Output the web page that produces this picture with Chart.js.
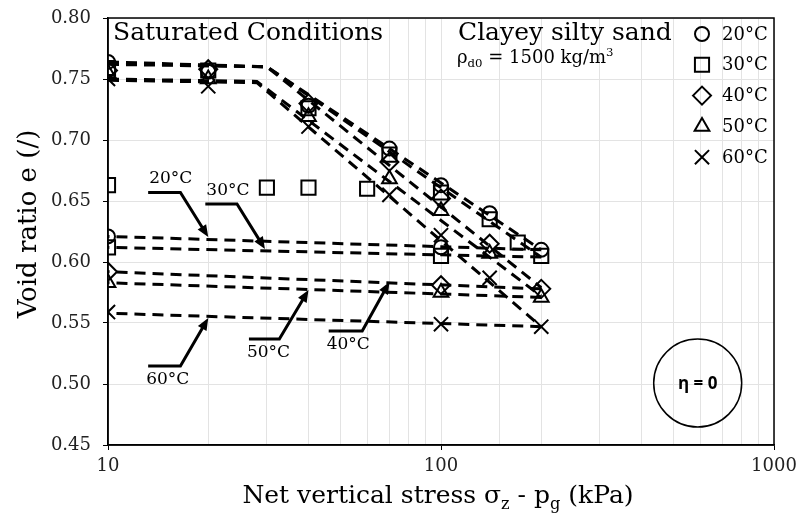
<!DOCTYPE html>
<html>
<head>
<meta charset="utf-8">
<script src="https://cdn.jsdelivr.net/npm/chart.js@4.4.0/dist/chart.umd.min.js"></script>
<style>
  html, body { margin: 0; padding: 0; background: #fff; }
  #wrap { width: 798px; height: 515px; }
</style>
</head>
<body>
<div id="wrap"><canvas id="voidChart" width="798" height="515"></canvas></div>
<script>
// Values (stress in kPa, void ratio e)
const temps = ['20°C', '30°C', '40°C', '50°C', '60°C'];
const markerStyles = ['circle', 'rect', 'rectRot', 'triangle', 'crossRot'];

// loading steps
const stressLoad = [10, 20, 40, 70, 100, 140, 200];
const eLoad20 = [0.764, 0.756, 0.728, 0.693, 0.663, 0.640, 0.610];
const eLoad30 = [0.759, 0.757, 0.726, 0.688, 0.657, 0.635, 0.605];
const eLoad40 = [0.757, 0.758, 0.730, 0.682, 0.652, 0.615, 0.578];
const eLoad50 = [0.755, 0.750, 0.719, 0.668, 0.642, 0.607, 0.571];
const eLoad60 = [0.750, 0.744, 0.711, 0.655, 0.622, 0.587, 0.547];

// extra 30°C specimen points
const stressExtra30 = [10, 30, 40, 60, 170];
const eExtra30 = [0.663, 0.661, 0.661, 0.660, 0.616];

// unloading steps
const stressUnload = [100, 10];
const eUnload20 = [0.612, 0.621];
const eUnload30 = [0.605, 0.612];
const eUnload40 = [0.581, 0.592];
const eUnload50 = [0.575, 0.583];
const eUnload60 = [0.549, 0.559];

// bilinear fits on loading
const stressFitHigh = [10, 30, 200];
const stressFitLow = [10, 28, 200];
const eFit20 = [0.764, 0.760, 0.610];
const eFit30 = [0.763, 0.760, 0.604];
const eFit40 = [0.762, 0.760, 0.579];
const eFit50 = [0.750, 0.748, 0.572];
const eFit60 = [0.749, 0.747, 0.547];

// rebound fits on unloading
const stressRebound = [200, 10];
const eRebound20 = [0.610, 0.621];
const eRebound30 = [0.604, 0.612];
const eRebound40 = [0.578, 0.592];
const eRebound50 = [0.571, 0.583];
const eRebound60 = [0.547, 0.558];

const yTicks = [0.45, 0.50, 0.55, 0.60, 0.65, 0.70, 0.75, 0.80];
const xTickLabels = [10, 100, 1000];

const SERIF = '"DejaVu Serif", serif';
const pts = (xs, ys) => xs.map((x, i) => ({ x: x, y: ys[i] }));

const markerSets = [
    pts(stressLoad, eLoad20).concat(pts(stressUnload, eUnload20)),
    pts(stressLoad, eLoad30).concat(pts(stressUnload, eUnload30), pts(stressExtra30, eExtra30)),
    pts(stressLoad, eLoad40).concat(pts(stressUnload, eUnload40)),
    pts(stressLoad, eLoad50).concat(pts(stressUnload, eUnload50)),
    pts(stressLoad, eLoad60).concat(pts(stressUnload, eUnload60))
];
const markerRadius = [7, 10, 9, 8.5, 10];

const fitLines = [
    pts(stressFitHigh, eFit20), pts(stressFitHigh, eFit30), pts(stressFitHigh, eFit40),
    pts(stressFitLow, eFit50), pts(stressFitLow, eFit60),
    pts(stressRebound, eRebound20), pts(stressRebound, eRebound30), pts(stressRebound, eRebound40),
    pts(stressRebound, eRebound50), pts(stressRebound, eRebound60)
];

const datasets = [];
markerSets.forEach((d, i) => {
    datasets.push({
        label: temps[i],
        data: d,
        showLine: false,
        pointStyle: markerStyles[i],
        pointRadius: markerRadius[i],
        pointBorderWidth: 2,
        pointBorderColor: '#000',
        pointBackgroundColor: 'rgba(0,0,0,0)',
        order: 0
    });
});
fitLines.forEach(d => {
    datasets.push({
        label: 'fit',
        data: d,
        showLine: true,
        borderColor: '#000',
        borderWidth: 3,
        borderDash: [11, 7],
        pointRadius: 0,
        fill: false,
        order: 1
    });
});

// rich text with sub/superscripts
function drawRich(ctx, parts, x, y, size, align) {
    const widths = parts.map(p => {
        ctx.font = ((p.sub || p.sup) ? size * 0.65 : size) + 'px ' + SERIF;
        return ctx.measureText(p.t).width;
    });
    const total = widths.reduce((a, b) => a + b, 0);
    let cx = align === 'center' ? x - total / 2 : x;
    parts.forEach((p, i) => {
        ctx.font = ((p.sub || p.sup) ? size * 0.65 : size) + 'px ' + SERIF;
        const dy = p.sub ? size * 0.22 : (p.sup ? -size * 0.38 : 0);
        ctx.fillText(p.t, cx, y + dy);
        cx += widths[i];
    });
}

function arrowHead(ctx, x0, y0, x1, y1) {
    const ang = Math.atan2(y1 - y0, x1 - x0);
    const len = 12, half = 5;
    ctx.beginPath();
    ctx.moveTo(x1, y1);
    ctx.lineTo(x1 - len * Math.cos(ang) + half * Math.sin(ang), y1 - len * Math.sin(ang) - half * Math.cos(ang));
    ctx.lineTo(x1 - len * Math.cos(ang) - half * Math.sin(ang), y1 - len * Math.sin(ang) + half * Math.cos(ang));
    ctx.closePath();
    ctx.fill();
}

// leader arrows pointing at the unloading lines (data coordinates)
const leaders = [
    { text: '20°C', path: [[13.2, 0.657], [16.5, 0.657], [20, 0.6205]], above: true },
    { text: '30°C', path: [[19.6, 0.6475], [24.4, 0.6475], [29.6, 0.6107]], above: true },
    { text: '60°C', path: [[13.2, 0.5148], [16.5, 0.5148], [20, 0.554]], above: false },
    { text: '50°C', path: [[26.5, 0.5369], [32.7, 0.5369], [40, 0.577]], above: false },
    { text: '40°C', path: [[46, 0.5434], [58, 0.5434], [70, 0.5836]], above: false }
];

const overlay = {
    id: 'overlay',
    afterDraw(chart) {
        const ctx = chart.ctx;
        const a = chart.chartArea;
        const xs = chart.scales.x, ys = chart.scales.y;
        ctx.save();
        ctx.fillStyle = '#000';
        ctx.strokeStyle = '#000';

        // frame
        ctx.lineWidth = 1.5;
        ctx.strokeRect(a.left, a.top, a.right - a.left, a.bottom - a.top);

        // headings
        ctx.textBaseline = 'alphabetic';
        ctx.textAlign = 'left';
        ctx.font = '25px ' + SERIF;
        ctx.fillText('Saturated Conditions', a.left + 5, a.top + 22);
        ctx.fillText('Clayey silty sand', 458, a.top + 22);
        drawRich(ctx, [{ t: 'ρ' }, { t: 'd0', sub: true }, { t: ' = 1500 kg/m' }, { t: '3', sup: true }], 457, a.top + 45, 18, 'left');

        // leaders
        ctx.lineWidth = 3;
        ctx.font = '17px ' + SERIF;
        leaders.forEach(l => {
            const p = l.path.map(q => [xs.getPixelForValue(q[0]), ys.getPixelForValue(q[1])]);
            ctx.beginPath();
            ctx.moveTo(p[0][0], p[0][1]);
            ctx.lineTo(p[1][0], p[1][1]);
            const ang = Math.atan2(p[2][1] - p[1][1], p[2][0] - p[1][0]);
            ctx.lineTo(p[2][0] - 8 * Math.cos(ang), p[2][1] - 8 * Math.sin(ang));
            ctx.stroke();
            arrowHead(ctx, p[1][0], p[1][1], p[2][0], p[2][1]);
            if (l.above) {
                ctx.textBaseline = 'alphabetic';
                ctx.fillText(l.text, p[0][0] + 1, p[0][1] - 9);
            } else {
                ctx.textBaseline = 'top';
                ctx.fillText(l.text, p[0][0] - 2, p[0][1] + 5);
            }
        });

        // eta circle
        const ex = xs.getPixelForValue(590), ey = ys.getPixelForValue(0.5008);
        ctx.lineWidth = 1.5;
        ctx.beginPath();
        ctx.arc(ex, ey, 44, 0, Math.PI * 2);
        ctx.stroke();
        ctx.font = 'bold 17px "Open Sans", sans-serif';
        ctx.textAlign = 'center';
        ctx.textBaseline = 'middle';
        ctx.fillText('η = 0', ex, ey + 1);

        // legend
        ctx.textAlign = 'left';
        ctx.font = '18px ' + SERIF;
        temps.forEach((t, i) => {
            const ly = a.top + 16 + i * 30.8;
            const lx = a.right - 72;
            const opts = { pointStyle: markerStyles[i], radius: markerRadius[i], borderWidth: 2 };
            ctx.lineWidth = 2;
            ctx.strokeStyle = '#000';
            ctx.fillStyle = 'rgba(0,0,0,0)';
            Chart.helpers.drawPoint(ctx, opts, lx, ly);
            ctx.fillStyle = '#000';
            ctx.textBaseline = 'middle';
            ctx.fillText(t, lx + 20, ly + 1);
        });

        // axis titles
        ctx.textBaseline = 'alphabetic';
        drawRich(ctx, [{ t: 'Net vertical stress σ' }, { t: 'z', sub: true }, { t: ' - p' }, { t: 'g', sub: true }, { t: ' (kPa)' }],
            (a.left + a.right) / 2 - 3, 503, 25, 'center');
        ctx.save();
        ctx.translate(36, 224);
        ctx.rotate(-Math.PI / 2);
        ctx.textAlign = 'center';
        ctx.font = '26px ' + SERIF;
        ctx.fillText('Void ratio e (/)', 0, 0);
        ctx.restore();

        ctx.restore();
    }
};

new Chart(document.getElementById('voidChart'), {
    type: 'scatter',
    data: { datasets: datasets },
    options: {
        responsive: false,
        devicePixelRatio: 1,
        animation: false,
        layout: { padding: { left: 0, top: 18, right: 24, bottom: 0 } },
        plugins: { legend: { display: false }, tooltip: { enabled: false } },
        scales: {
            x: {
                type: 'logarithmic',
                min: 10,
                max: 1000,
                afterFit: s => { s.height = 70; s.paddingLeft = 0; s.paddingRight = 0; },
                border: { color: '#000', width: 1.5 },
                grid: {
                    color: '#e3e3e3',
                    lineWidth: 1,
                    tickLength: 5,
                    tickColor: c => xTickLabels.includes(c.tick && c.tick.value) ? '#000' : 'rgba(0,0,0,0)'
                },
                ticks: {
                    autoSkip: false,
                    maxRotation: 0,
                    padding: 6,
                    color: '#222',
                    font: { family: SERIF, size: 18 },
                    callback: v => xTickLabels.includes(v) ? String(v) : ''
                }
            },
            y: {
                min: 0.45,
                max: 0.80,
                afterFit: s => { s.width = 108; s.paddingTop = 0; s.paddingBottom = 0; },
                afterBuildTicks: s => { s.ticks = yTicks.map(v => ({ value: v })); },
                border: { color: '#000', width: 1.5 },
                grid: { color: '#e3e3e3', lineWidth: 1, tickLength: 5, tickColor: '#000' },
                ticks: {
                    padding: 12,
                    color: '#222',
                    font: { family: SERIF, size: 18 },
                    callback: v => v.toFixed(2)
                }
            }
        }
    },
    plugins: [overlay]
});
</script>
</body>
</html>
